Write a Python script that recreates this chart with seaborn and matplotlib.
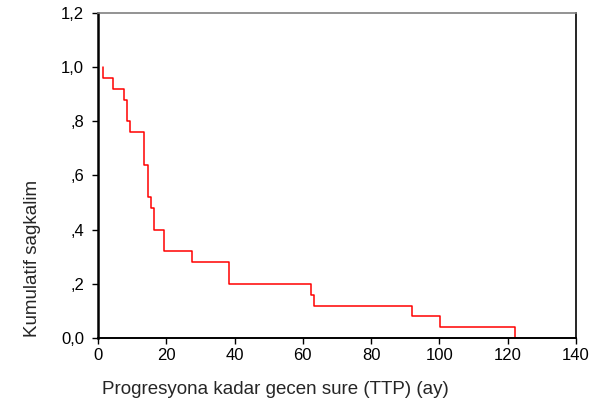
import matplotlib
matplotlib.use("Agg")
import matplotlib.pyplot as plt
import seaborn as sns
import pandas as pd

# Kaplan-Meier steps
event_times = [1.5, 1.5, 4.5, 7.6, 8.4, 9.5, 13.6, 14.5, 15.4, 16.5, 19.3,
               27.4, 38.4, 62.3, 63.3, 92.1, 100.1, 122.0]
survival = [1.0, 0.96, 0.92, 0.88, 0.80, 0.76, 0.64, 0.52, 0.48, 0.40, 0.32,
            0.28, 0.20, 0.16, 0.12, 0.08, 0.04, 0.0]

x_ticks = [0, 20, 40, 60, 80, 100, 120, 140]
y_ticks = [0.0, 0.2, 0.4, 0.6, 0.8, 1.0, 1.2]
y_tick_labels = ["0,0", ",2", ",4", ",6", ",8", "1,0", "1,2"]

sns.set_style("ticks")
plt.rcParams["font.family"] = ["Liberation Sans", "DejaVu Sans"]

df = pd.DataFrame({"t": event_times, "s": survival})

fig = plt.figure(figsize=(5.93, 4.12), dpi=100)
ax = fig.add_axes([98 / 593, 74 / 412, 478 / 593, 325 / 412])

sns.lineplot(data=df, x="t", y="s", ax=ax, color="#ff0000", linewidth=1.1,
             drawstyle="steps-post", estimator=None, sort=False)

ax.set_xlim(0, 140)
ax.set_ylim(0, 1.2)
ax.set_xticks(x_ticks)
ax.set_yticks(y_ticks)
ax.set_yticklabels(y_tick_labels)
ax.tick_params(axis="both", direction="out", length=4, width=1,
               labelsize=12, colors="black")
ax.tick_params(axis="x", pad=3)
ax.tick_params(axis="y", pad=6)
ax.set_xlabel("")
ax.set_ylabel("")

for side in ["left", "bottom", "right"]:
    ax.spines[side].set_visible(True)
    ax.spines[side].set_color("black")
ax.spines["top"].set_visible(True)
ax.spines["top"].set_color("#808080")
ax.spines["left"].set_linewidth(1.8)
ax.spines["bottom"].set_linewidth(1.4)
ax.spines["right"].set_linewidth(1.2)
ax.spines["top"].set_linewidth(1.2)

fig.text(275 / 593, 1 - 390 / 412, "Progresyona kadar gecen sure (TTP) (ay)",
         ha="center", va="center", fontsize=13.5)
fig.text(33 / 593, 1 - 258 / 412, "Kumulatif sagkalim", rotation=90,
         ha="center", va="center", fontsize=13.5)

fig.savefig("out.png", dpi=100)
